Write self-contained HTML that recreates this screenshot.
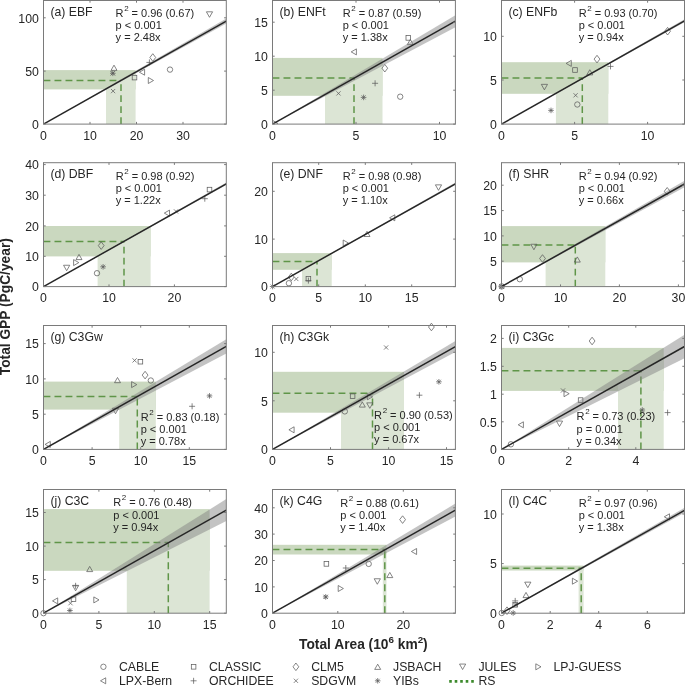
<!DOCTYPE html><html><head><meta charset="utf-8"><style>html,body{margin:0;padding:0;background:#fff;}svg{display:block;font-family:"Liberation Sans", sans-serif;will-change:transform;}</style></head><body>
<svg width="685" height="686" viewBox="0 0 685 686">
<rect width="685" height="686" fill="#fff"/>
<clipPath id="c0"><rect x="43.5" y="0.5" width="182.80" height="123.60"/></clipPath>
<g clip-path="url(#c0)">
<rect x="43.50" y="70.10" width="92.10" height="19.30" fill="#cad8bf"/>
<path d="M106.00 124.10V88.88L135.60 72.21V124.10Z" fill="#dce5d5"/>
<path d="M43.50 80.40H121.00" stroke="#5f9548" stroke-width="1.5" fill="none" stroke-dasharray="6.9 4.1"/>
<path d="M121.00 124.10V80.40" stroke="#5f9548" stroke-width="1.5" fill="none" stroke-dasharray="6.9 4.1"/>
</g>
<path d="M209.50 17.30L212.60 11.80L206.40 11.80Z" stroke="#5c5c5c" stroke-width="0.75" fill="none"/>
<path d="M114.00 65.15L117.00 70.35L111.00 70.35Z" stroke="#5c5c5c" stroke-width="0.75" fill="none"/>
<path d="M110.00 73.30H115.60M112.80 70.50V76.10M110.80 71.30L114.80 75.30M110.80 75.30L114.80 71.30" stroke="#5c5c5c" stroke-width="0.75" fill="none"/>
<path d="M110.70 71.20L114.90 75.40M110.70 75.40L114.90 71.20" stroke="#5c5c5c" stroke-width="0.75" fill="none"/>
<path d="M111.00 89.00L115.20 93.20M111.00 93.20L115.20 89.00" stroke="#5c5c5c" stroke-width="0.75" fill="none"/>
<rect x="132.20" y="75.30" width="4.6" height="4.6" stroke="#5c5c5c" stroke-width="0.75" fill="none"/>
<path d="M139.40 72.20L144.60 69.20L144.60 75.20Z" stroke="#5c5c5c" stroke-width="0.75" fill="none"/>
<path d="M153.50 80.50L148.30 77.50L148.30 83.50Z" stroke="#5c5c5c" stroke-width="0.75" fill="none"/>
<path d="M152.80 53.70L155.70 57.50L152.80 61.30L149.90 57.50Z" stroke="#5c5c5c" stroke-width="0.75" fill="none"/>
<path d="M146.40 62.40H152.40M149.40 59.40V65.40" stroke="#5c5c5c" stroke-width="0.75" fill="none"/>
<circle cx="170.00" cy="69.60" r="2.7" stroke="#5c5c5c" stroke-width="0.75" fill="none"/>
<g clip-path="url(#c0)">
<path d="M43.50 124.10L226.30 18.60L226.30 23.60Z" fill="#808080" fill-opacity="0.47"/>
<line x1="43.50" y1="124.10" x2="226.30" y2="21.10" stroke="#262626" stroke-width="1.5"/>
</g>
<rect x="43.5" y="0.5" width="182.80" height="123.60" fill="none" stroke="#7a7a7a" stroke-width="1"/>
<path d="M43.50 124.10v-2.2M43.50 0.50v2.2M90.00 124.10v-2.2M90.00 0.50v2.2M136.50 124.10v-2.2M136.50 0.50v2.2M183.00 124.10v-2.2M183.00 0.50v2.2M43.50 124.10h2.2M226.30 124.10h-2.2M43.50 71.10h2.2M226.30 71.10h-2.2M43.50 17.80h2.2M226.30 17.80h-2.2" stroke="#7a7a7a" stroke-width="1" fill="none"/>
<text x="43.50" y="139.60" font-size="12.3" text-anchor="middle" fill="#262626">0</text>
<text x="90.00" y="139.60" font-size="12.3" text-anchor="middle" fill="#262626">10</text>
<text x="136.50" y="139.60" font-size="12.3" text-anchor="middle" fill="#262626">20</text>
<text x="183.00" y="139.60" font-size="12.3" text-anchor="middle" fill="#262626">30</text>
<text x="38.90" y="128.95" font-size="12.3" text-anchor="end" fill="#262626">0</text>
<text x="38.90" y="75.95" font-size="12.3" text-anchor="end" fill="#262626">50</text>
<text x="38.90" y="22.65" font-size="12.3" text-anchor="end" fill="#262626">100</text>
<text x="50.40" y="16.00" font-size="12.25" fill="#262626">(a) EBF</text>
<g fill="#262626">
<text x="115.60" y="16.70" font-size="11.0">R<tspan dx="0.6" dy="-6.2" font-size="8">2</tspan><tspan dx="-0.1" dy="6.2"> = 0.96 (0.67)</tspan></text>
<text x="115.60" y="28.85" font-size="11.0">p < 0.001</text>
<text x="115.60" y="41.00" font-size="11.0">y = 2.48x</text>
</g>
<clipPath id="c1"><rect x="272.5" y="0.5" width="182.90" height="123.60"/></clipPath>
<g clip-path="url(#c1)">
<rect x="272.50" y="57.90" width="110.00" height="37.90" fill="#cad8bf"/>
<path d="M325.00 124.10V94.56L382.50 62.21V124.10Z" fill="#dce5d5"/>
<path d="M272.50 77.90H354.00" stroke="#5f9548" stroke-width="1.5" fill="none" stroke-dasharray="6.9 4.1"/>
<path d="M354.00 124.10V77.90" stroke="#5f9548" stroke-width="1.5" fill="none" stroke-dasharray="6.9 4.1"/>
</g>
<path d="M351.20 51.90L356.40 48.90L356.40 54.90Z" stroke="#5c5c5c" stroke-width="0.75" fill="none"/>
<rect x="406.00" y="35.60" width="4.6" height="4.6" stroke="#5c5c5c" stroke-width="0.75" fill="none"/>
<path d="M410.30 39.40L413.30 44.60L407.30 44.60Z" stroke="#5c5c5c" stroke-width="0.75" fill="none"/>
<path d="M384.80 64.40L387.70 68.20L384.80 72.00L381.90 68.20Z" stroke="#5c5c5c" stroke-width="0.75" fill="none"/>
<path d="M372.10 83.30H378.10M375.10 80.30V86.30" stroke="#5c5c5c" stroke-width="0.75" fill="none"/>
<path d="M336.40 91.30L340.60 95.50M336.40 95.50L340.60 91.30" stroke="#5c5c5c" stroke-width="0.75" fill="none"/>
<path d="M360.80 97.40H366.40M363.60 94.60V100.20M361.60 95.40L365.60 99.40M361.60 99.40L365.60 95.40" stroke="#5c5c5c" stroke-width="0.75" fill="none"/>
<circle cx="400.20" cy="96.70" r="2.7" stroke="#5c5c5c" stroke-width="0.75" fill="none"/>
<g clip-path="url(#c1)"><path d="M277.80 123.40L272.60 120.40L272.60 126.40Z" stroke="#5c5c5c" stroke-width="0.75" fill="none"/></g>
<g clip-path="url(#c1)">
<path d="M272.50 124.10L455.40 15.20L455.40 27.20Z" fill="#808080" fill-opacity="0.47"/>
<line x1="272.50" y1="124.10" x2="455.40" y2="21.20" stroke="#262626" stroke-width="1.5"/>
</g>
<rect x="272.5" y="0.5" width="182.90" height="123.60" fill="none" stroke="#7a7a7a" stroke-width="1"/>
<path d="M272.50 124.10v-2.2M272.50 0.50v2.2M356.00 124.10v-2.2M356.00 0.50v2.2M439.50 124.10v-2.2M439.50 0.50v2.2M272.50 124.10h2.2M455.40 124.10h-2.2M272.50 90.20h2.2M455.40 90.20h-2.2M272.50 56.20h2.2M455.40 56.20h-2.2M272.50 22.20h2.2M455.40 22.20h-2.2" stroke="#7a7a7a" stroke-width="1" fill="none"/>
<text x="272.50" y="139.60" font-size="12.3" text-anchor="middle" fill="#262626">0</text>
<text x="356.00" y="139.60" font-size="12.3" text-anchor="middle" fill="#262626">5</text>
<text x="439.50" y="139.60" font-size="12.3" text-anchor="middle" fill="#262626">10</text>
<text x="267.90" y="128.95" font-size="12.3" text-anchor="end" fill="#262626">0</text>
<text x="267.90" y="95.05" font-size="12.3" text-anchor="end" fill="#262626">5</text>
<text x="267.90" y="61.05" font-size="12.3" text-anchor="end" fill="#262626">10</text>
<text x="267.90" y="27.05" font-size="12.3" text-anchor="end" fill="#262626">15</text>
<text x="279.40" y="16.00" font-size="12.25" fill="#262626">(b) ENFt</text>
<g fill="#262626">
<text x="342.70" y="16.70" font-size="11.0">R<tspan dx="0.6" dy="-6.2" font-size="8">2</tspan><tspan dx="-0.1" dy="6.2"> = 0.87 (0.59)</tspan></text>
<text x="342.70" y="28.85" font-size="11.0">p < 0.001</text>
<text x="342.70" y="41.00" font-size="11.0">y = 1.38x</text>
</g>
<clipPath id="c2"><rect x="501.5" y="0.5" width="183.00" height="123.60"/></clipPath>
<g clip-path="url(#c2)">
<rect x="501.50" y="62.20" width="106.80" height="31.60" fill="#cad8bf"/>
<path d="M555.90 124.10V93.39L608.30 63.81V124.10Z" fill="#dce5d5"/>
<path d="M501.50 78.10H582.30" stroke="#5f9548" stroke-width="1.5" fill="none" stroke-dasharray="6.9 4.1"/>
<path d="M582.30 124.10V78.10" stroke="#5f9548" stroke-width="1.5" fill="none" stroke-dasharray="6.9 4.1"/>
</g>
<path d="M667.60 27.40L670.50 31.20L667.60 35.00L664.70 31.20Z" stroke="#5c5c5c" stroke-width="0.75" fill="none"/>
<path d="M597.00 55.30L599.90 59.10L597.00 62.90L594.10 59.10Z" stroke="#5c5c5c" stroke-width="0.75" fill="none"/>
<path d="M566.10 63.40L571.30 60.40L571.30 66.40Z" stroke="#5c5c5c" stroke-width="0.75" fill="none"/>
<rect x="572.70" y="67.70" width="4.6" height="4.6" stroke="#5c5c5c" stroke-width="0.75" fill="none"/>
<path d="M589.80 69.70L592.80 74.90L586.80 74.90Z" stroke="#5c5c5c" stroke-width="0.75" fill="none"/>
<path d="M607.50 66.40H613.50M610.50 63.40V69.40" stroke="#5c5c5c" stroke-width="0.75" fill="none"/>
<path d="M544.40 89.85L547.50 84.35L541.30 84.35Z" stroke="#5c5c5c" stroke-width="0.75" fill="none"/>
<path d="M573.50 93.20L577.70 97.40M573.50 97.40L577.70 93.20" stroke="#5c5c5c" stroke-width="0.75" fill="none"/>
<circle cx="577.30" cy="104.50" r="2.7" stroke="#5c5c5c" stroke-width="0.75" fill="none"/>
<path d="M548.20 110.40H553.80M551.00 107.60V113.20M549.00 108.40L553.00 112.40M549.00 112.40L553.00 108.40" stroke="#5c5c5c" stroke-width="0.75" fill="none"/>
<g clip-path="url(#c2)">
<path d="M501.50 124.10L684.50 19.30L684.50 22.30Z" fill="#808080" fill-opacity="0.47"/>
<line x1="501.50" y1="124.10" x2="684.50" y2="20.80" stroke="#262626" stroke-width="1.5"/>
</g>
<rect x="501.5" y="0.5" width="183.00" height="123.60" fill="none" stroke="#7a7a7a" stroke-width="1"/>
<path d="M501.50 124.10v-2.2M501.50 0.50v2.2M574.60 124.10v-2.2M574.60 0.50v2.2M647.60 124.10v-2.2M647.60 0.50v2.2M501.50 124.10h2.2M684.50 124.10h-2.2M501.50 80.00h2.2M684.50 80.00h-2.2M501.50 36.30h2.2M684.50 36.30h-2.2" stroke="#7a7a7a" stroke-width="1" fill="none"/>
<text x="501.50" y="139.60" font-size="12.3" text-anchor="middle" fill="#262626">0</text>
<text x="574.60" y="139.60" font-size="12.3" text-anchor="middle" fill="#262626">5</text>
<text x="647.60" y="139.60" font-size="12.3" text-anchor="middle" fill="#262626">10</text>
<text x="496.90" y="128.95" font-size="12.3" text-anchor="end" fill="#262626">0</text>
<text x="496.90" y="84.85" font-size="12.3" text-anchor="end" fill="#262626">5</text>
<text x="496.90" y="41.15" font-size="12.3" text-anchor="end" fill="#262626">10</text>
<text x="508.40" y="16.00" font-size="12.25" fill="#262626">(c) ENFb</text>
<g fill="#262626">
<text x="578.70" y="17.00" font-size="11.0">R<tspan dx="0.6" dy="-6.2" font-size="8">2</tspan><tspan dx="-0.1" dy="6.2"> = 0.93 (0.70)</tspan></text>
<text x="578.70" y="29.15" font-size="11.0">p < 0.001</text>
<text x="578.70" y="41.30" font-size="11.0">y = 0.94x</text>
</g>
<clipPath id="c3"><rect x="43.5" y="162.7" width="182.80" height="123.90"/></clipPath>
<g clip-path="url(#c3)">
<rect x="43.50" y="226.00" width="107.10" height="30.40" fill="#cad8bf"/>
<path d="M97.60 286.60V256.18L150.60 226.37V286.60Z" fill="#dce5d5"/>
<path d="M43.50 241.50H124.00" stroke="#5f9548" stroke-width="1.5" fill="none" stroke-dasharray="6.9 4.1"/>
<path d="M124.00 286.60V241.50" stroke="#5f9548" stroke-width="1.5" fill="none" stroke-dasharray="6.9 4.1"/>
</g>
<rect x="207.20" y="187.30" width="4.6" height="4.6" stroke="#5c5c5c" stroke-width="0.75" fill="none"/>
<path d="M201.80 198.70H207.80M204.80 195.70V201.70" stroke="#5c5c5c" stroke-width="0.75" fill="none"/>
<path d="M164.30 213.10L169.50 210.10L169.50 216.10Z" stroke="#5c5c5c" stroke-width="0.75" fill="none"/>
<path d="M173.90 209.30L178.10 213.50M173.90 213.50L178.10 209.30" stroke="#5c5c5c" stroke-width="0.75" fill="none"/>
<path d="M101.20 241.80L104.10 245.60L101.20 249.40L98.30 245.60Z" stroke="#5c5c5c" stroke-width="0.75" fill="none"/>
<path d="M79.00 254.40L82.00 259.60L76.00 259.60Z" stroke="#5c5c5c" stroke-width="0.75" fill="none"/>
<path d="M78.80 262.60L73.60 259.60L73.60 265.60Z" stroke="#5c5c5c" stroke-width="0.75" fill="none"/>
<path d="M66.65 270.75L69.75 265.25L63.55 265.25Z" stroke="#5c5c5c" stroke-width="0.75" fill="none"/>
<circle cx="97.00" cy="273.20" r="2.7" stroke="#5c5c5c" stroke-width="0.75" fill="none"/>
<path d="M100.30 266.80H105.90M103.10 264.00V269.60M101.10 264.80L105.10 268.80M101.10 268.80L105.10 264.80" stroke="#5c5c5c" stroke-width="0.75" fill="none"/>
<g clip-path="url(#c3)">
<path d="M43.50 286.60L226.30 182.60L226.30 185.00Z" fill="#808080" fill-opacity="0.47"/>
<line x1="43.50" y1="286.60" x2="226.30" y2="183.80" stroke="#262626" stroke-width="1.5"/>
</g>
<rect x="43.5" y="162.7" width="182.80" height="123.90" fill="none" stroke="#7a7a7a" stroke-width="1"/>
<path d="M43.50 286.60v-2.2M43.50 162.70v2.2M109.00 286.60v-2.2M109.00 162.70v2.2M174.40 286.60v-2.2M174.40 162.70v2.2M43.50 286.60h2.2M226.30 286.60h-2.2M43.50 256.30h2.2M226.30 256.30h-2.2M43.50 225.90h2.2M226.30 225.90h-2.2M43.50 195.20h2.2M226.30 195.20h-2.2M43.50 164.60h2.2M226.30 164.60h-2.2" stroke="#7a7a7a" stroke-width="1" fill="none"/>
<text x="43.50" y="302.10" font-size="12.3" text-anchor="middle" fill="#262626">0</text>
<text x="109.00" y="302.10" font-size="12.3" text-anchor="middle" fill="#262626">10</text>
<text x="174.40" y="302.10" font-size="12.3" text-anchor="middle" fill="#262626">20</text>
<text x="38.90" y="291.45" font-size="12.3" text-anchor="end" fill="#262626">0</text>
<text x="38.90" y="261.15" font-size="12.3" text-anchor="end" fill="#262626">10</text>
<text x="38.90" y="230.75" font-size="12.3" text-anchor="end" fill="#262626">20</text>
<text x="38.90" y="200.05" font-size="12.3" text-anchor="end" fill="#262626">30</text>
<text x="38.90" y="169.45" font-size="12.3" text-anchor="end" fill="#262626">40</text>
<text x="50.40" y="178.20" font-size="12.25" fill="#262626">(d) DBF</text>
<g fill="#262626">
<text x="115.70" y="179.70" font-size="11.0">R<tspan dx="0.6" dy="-6.2" font-size="8">2</tspan><tspan dx="-0.1" dy="6.2"> = 0.98 (0.92)</tspan></text>
<text x="115.70" y="191.85" font-size="11.0">p < 0.001</text>
<text x="115.70" y="204.00" font-size="11.0">y = 1.22x</text>
</g>
<clipPath id="c4"><rect x="272.5" y="162.7" width="182.90" height="123.90"/></clipPath>
<g clip-path="url(#c4)">
<rect x="272.50" y="253.10" width="59.20" height="16.70" fill="#cad8bf"/>
<path d="M302.00 286.60V270.02L331.70 253.33V286.60Z" fill="#dce5d5"/>
<path d="M272.50 261.50H317.00" stroke="#5f9548" stroke-width="1.5" fill="none" stroke-dasharray="6.9 4.1"/>
<path d="M317.00 286.60V261.50" stroke="#5f9548" stroke-width="1.5" fill="none" stroke-dasharray="6.9 4.1"/>
</g>
<path d="M438.50 190.35L441.60 184.85L435.40 184.85Z" stroke="#5c5c5c" stroke-width="0.75" fill="none"/>
<path d="M389.60 217.80L394.80 214.80L394.80 220.80Z" stroke="#5c5c5c" stroke-width="0.75" fill="none"/>
<path d="M367.00 231.30L370.00 236.50L364.00 236.50Z" stroke="#5c5c5c" stroke-width="0.75" fill="none"/>
<path d="M348.40 243.00L343.20 240.00L343.20 246.00Z" stroke="#5c5c5c" stroke-width="0.75" fill="none"/>
<path d="M291.30 273.20L294.20 277.00L291.30 280.80L288.40 277.00Z" stroke="#5c5c5c" stroke-width="0.75" fill="none"/>
<path d="M294.20 276.90L298.40 281.10M294.20 281.10L298.40 276.90" stroke="#5c5c5c" stroke-width="0.75" fill="none"/>
<circle cx="288.90" cy="283.20" r="2.7" stroke="#5c5c5c" stroke-width="0.75" fill="none"/>
<rect x="306.10" y="276.40" width="4.6" height="4.6" stroke="#5c5c5c" stroke-width="0.75" fill="none"/>
<path d="M305.40 280.60H311.40M308.40 277.60V283.60" stroke="#5c5c5c" stroke-width="0.75" fill="none"/>
<path d="M269.80 286.50H275.40M272.60 283.70V289.30M270.60 284.50L274.60 288.50M270.60 288.50L274.60 284.50" stroke="#5c5c5c" stroke-width="0.75" fill="none"/>
<g clip-path="url(#c4)">
<path d="M272.50 286.60L455.40 182.50L455.40 185.10Z" fill="#808080" fill-opacity="0.47"/>
<line x1="272.50" y1="286.60" x2="455.40" y2="183.80" stroke="#262626" stroke-width="1.5"/>
</g>
<rect x="272.5" y="162.7" width="182.90" height="123.90" fill="none" stroke="#7a7a7a" stroke-width="1"/>
<path d="M272.50 286.60v-2.2M272.50 162.70v2.2M318.70 286.60v-2.2M318.70 162.70v2.2M365.30 286.60v-2.2M365.30 162.70v2.2M411.70 286.60v-2.2M411.70 162.70v2.2M272.50 286.60h2.2M455.40 286.60h-2.2M272.50 239.10h2.2M455.40 239.10h-2.2M272.50 191.30h2.2M455.40 191.30h-2.2" stroke="#7a7a7a" stroke-width="1" fill="none"/>
<text x="272.50" y="302.10" font-size="12.3" text-anchor="middle" fill="#262626">0</text>
<text x="318.70" y="302.10" font-size="12.3" text-anchor="middle" fill="#262626">5</text>
<text x="365.30" y="302.10" font-size="12.3" text-anchor="middle" fill="#262626">10</text>
<text x="411.70" y="302.10" font-size="12.3" text-anchor="middle" fill="#262626">15</text>
<text x="267.90" y="291.45" font-size="12.3" text-anchor="end" fill="#262626">0</text>
<text x="267.90" y="243.95" font-size="12.3" text-anchor="end" fill="#262626">10</text>
<text x="267.90" y="196.15" font-size="12.3" text-anchor="end" fill="#262626">20</text>
<text x="279.40" y="178.20" font-size="12.25" fill="#262626">(e) DNF</text>
<g fill="#262626">
<text x="342.70" y="179.90" font-size="11.0">R<tspan dx="0.6" dy="-6.2" font-size="8">2</tspan><tspan dx="-0.1" dy="6.2"> = 0.98 (0.98)</tspan></text>
<text x="342.70" y="192.05" font-size="11.0">p < 0.001</text>
<text x="342.70" y="204.20" font-size="11.0">y = 1.10x</text>
</g>
<clipPath id="c5"><rect x="501.5" y="162.7" width="183.00" height="123.90"/></clipPath>
<g clip-path="url(#c5)">
<rect x="501.50" y="226.10" width="103.80" height="36.30" fill="#cad8bf"/>
<path d="M545.60 286.60V261.88L605.30 228.40V286.60Z" fill="#dce5d5"/>
<path d="M501.50 245.10H575.30" stroke="#5f9548" stroke-width="1.5" fill="none" stroke-dasharray="6.9 4.1"/>
<path d="M575.30 286.60V245.10" stroke="#5f9548" stroke-width="1.5" fill="none" stroke-dasharray="6.9 4.1"/>
</g>
<path d="M667.20 187.50L670.10 191.30L667.20 195.10L664.30 191.30Z" stroke="#5c5c5c" stroke-width="0.75" fill="none"/>
<path d="M533.90 249.75L537.00 244.25L530.80 244.25Z" stroke="#5c5c5c" stroke-width="0.75" fill="none"/>
<path d="M542.50 254.70L545.40 258.50L542.50 262.30L539.60 258.50Z" stroke="#5c5c5c" stroke-width="0.75" fill="none"/>
<path d="M577.30 256.90L580.30 262.10L574.30 262.10Z" stroke="#5c5c5c" stroke-width="0.75" fill="none"/>
<circle cx="519.80" cy="279.20" r="2.7" stroke="#5c5c5c" stroke-width="0.75" fill="none"/>
<path d="M498.90 286.40H504.50M501.70 283.60V289.20M499.70 284.40L503.70 288.40M499.70 288.40L503.70 284.40" stroke="#5c5c5c" stroke-width="0.75" fill="none"/>
<circle cx="501.70" cy="286.40" r="2.7" stroke="#5c5c5c" stroke-width="0.75" fill="none"/>
<path d="M499.60 284.30L503.80 288.50M499.60 288.50L503.80 284.30" stroke="#5c5c5c" stroke-width="0.75" fill="none"/>
<g clip-path="url(#c5)">
<path d="M501.50 286.60L684.50 180.80L684.50 187.20Z" fill="#808080" fill-opacity="0.47"/>
<line x1="501.50" y1="286.60" x2="684.50" y2="184.00" stroke="#262626" stroke-width="1.5"/>
</g>
<rect x="501.5" y="162.7" width="183.00" height="123.90" fill="none" stroke="#7a7a7a" stroke-width="1"/>
<path d="M501.50 286.60v-2.2M501.50 162.70v2.2M560.50 286.60v-2.2M560.50 162.70v2.2M619.40 286.60v-2.2M619.40 162.70v2.2M678.40 286.60v-2.2M678.40 162.70v2.2M501.50 286.60h2.2M684.50 286.60h-2.2M501.50 261.20h2.2M684.50 261.20h-2.2M501.50 235.90h2.2M684.50 235.90h-2.2M501.50 210.60h2.2M684.50 210.60h-2.2M501.50 185.20h2.2M684.50 185.20h-2.2" stroke="#7a7a7a" stroke-width="1" fill="none"/>
<text x="501.50" y="302.10" font-size="12.3" text-anchor="middle" fill="#262626">0</text>
<text x="560.50" y="302.10" font-size="12.3" text-anchor="middle" fill="#262626">10</text>
<text x="619.40" y="302.10" font-size="12.3" text-anchor="middle" fill="#262626">20</text>
<text x="678.40" y="302.10" font-size="12.3" text-anchor="middle" fill="#262626">30</text>
<text x="496.90" y="291.45" font-size="12.3" text-anchor="end" fill="#262626">0</text>
<text x="496.90" y="266.05" font-size="12.3" text-anchor="end" fill="#262626">5</text>
<text x="496.90" y="240.75" font-size="12.3" text-anchor="end" fill="#262626">10</text>
<text x="496.90" y="215.45" font-size="12.3" text-anchor="end" fill="#262626">15</text>
<text x="496.90" y="190.05" font-size="12.3" text-anchor="end" fill="#262626">20</text>
<text x="508.40" y="178.20" font-size="12.25" fill="#262626">(f) SHR</text>
<g fill="#262626">
<text x="578.70" y="179.90" font-size="11.0">R<tspan dx="0.6" dy="-6.2" font-size="8">2</tspan><tspan dx="-0.1" dy="6.2"> = 0.94 (0.92)</tspan></text>
<text x="578.70" y="192.05" font-size="11.0">p < 0.001</text>
<text x="578.70" y="204.20" font-size="11.0">y = 0.66x</text>
</g>
<clipPath id="c6"><rect x="43.5" y="325.5" width="182.80" height="123.90"/></clipPath>
<g clip-path="url(#c6)">
<rect x="43.50" y="381.60" width="112.30" height="28.00" fill="#cad8bf"/>
<path d="M119.20 449.40V406.75L155.80 386.12V449.40Z" fill="#dce5d5"/>
<path d="M43.50 396.50H137.30" stroke="#5f9548" stroke-width="1.5" fill="none" stroke-dasharray="6.9 4.1"/>
<path d="M137.30 449.40V396.50" stroke="#5f9548" stroke-width="1.5" fill="none" stroke-dasharray="6.9 4.1"/>
</g>
<path d="M132.50 358.30L136.70 362.50M132.50 362.50L136.70 358.30" stroke="#5c5c5c" stroke-width="0.75" fill="none"/>
<rect x="138.10" y="359.40" width="4.6" height="4.6" stroke="#5c5c5c" stroke-width="0.75" fill="none"/>
<path d="M145.10 371.30L148.00 375.10L145.10 378.90L142.20 375.10Z" stroke="#5c5c5c" stroke-width="0.75" fill="none"/>
<circle cx="150.80" cy="380.50" r="2.7" stroke="#5c5c5c" stroke-width="0.75" fill="none"/>
<path d="M117.50 377.50L120.50 382.70L114.50 382.70Z" stroke="#5c5c5c" stroke-width="0.75" fill="none"/>
<path d="M136.80 384.60L131.60 381.60L131.60 387.60Z" stroke="#5c5c5c" stroke-width="0.75" fill="none"/>
<path d="M206.70 395.90H212.30M209.50 393.10V398.70M207.50 393.90L211.50 397.90M207.50 397.90L211.50 393.90" stroke="#5c5c5c" stroke-width="0.75" fill="none"/>
<path d="M189.10 406.30H195.10M192.10 403.30V409.30" stroke="#5c5c5c" stroke-width="0.75" fill="none"/>
<path d="M115.50 413.75L118.60 408.25L112.40 408.25Z" stroke="#5c5c5c" stroke-width="0.75" fill="none"/>
<path d="M45.10 444.40L50.30 441.40L50.30 447.40Z" stroke="#5c5c5c" stroke-width="0.75" fill="none"/>
<g clip-path="url(#c6)">
<path d="M43.50 449.40L226.30 339.20L226.30 353.60Z" fill="#808080" fill-opacity="0.47"/>
<line x1="43.50" y1="449.40" x2="226.30" y2="346.40" stroke="#262626" stroke-width="1.5"/>
</g>
<rect x="43.5" y="325.5" width="182.80" height="123.90" fill="none" stroke="#7a7a7a" stroke-width="1"/>
<path d="M43.50 449.40v-2.2M43.50 325.50v2.2M92.10 449.40v-2.2M92.10 325.50v2.2M140.70 449.40v-2.2M140.70 325.50v2.2M189.30 449.40v-2.2M189.30 325.50v2.2M43.50 449.40h2.2M226.30 449.40h-2.2M43.50 414.20h2.2M226.30 414.20h-2.2M43.50 378.90h2.2M226.30 378.90h-2.2M43.50 343.60h2.2M226.30 343.60h-2.2" stroke="#7a7a7a" stroke-width="1" fill="none"/>
<text x="43.50" y="464.90" font-size="12.3" text-anchor="middle" fill="#262626">0</text>
<text x="92.10" y="464.90" font-size="12.3" text-anchor="middle" fill="#262626">5</text>
<text x="140.70" y="464.90" font-size="12.3" text-anchor="middle" fill="#262626">10</text>
<text x="189.30" y="464.90" font-size="12.3" text-anchor="middle" fill="#262626">15</text>
<text x="38.90" y="454.25" font-size="12.3" text-anchor="end" fill="#262626">0</text>
<text x="38.90" y="419.05" font-size="12.3" text-anchor="end" fill="#262626">5</text>
<text x="38.90" y="383.75" font-size="12.3" text-anchor="end" fill="#262626">10</text>
<text x="38.90" y="348.45" font-size="12.3" text-anchor="end" fill="#262626">15</text>
<text x="50.40" y="341.00" font-size="12.25" fill="#262626">(g) C3Gw</text>
<g fill="#262626">
<text x="140.70" y="420.70" font-size="11.0">R<tspan dx="0.6" dy="-6.2" font-size="8">2</tspan><tspan dx="-0.1" dy="6.2"> = 0.83 (0.18)</tspan></text>
<text x="140.70" y="432.85" font-size="11.0">p < 0.001</text>
<text x="140.70" y="445.00" font-size="11.0">y = 0.78x</text>
</g>
<clipPath id="c7"><rect x="272.5" y="325.5" width="182.90" height="123.90"/></clipPath>
<g clip-path="url(#c7)">
<rect x="272.50" y="371.80" width="131.50" height="40.90" fill="#cad8bf"/>
<path d="M341.00 449.40V410.90L404.00 375.49V449.40Z" fill="#dce5d5"/>
<path d="M272.50 393.30H372.50" stroke="#5f9548" stroke-width="1.5" fill="none" stroke-dasharray="6.9 4.1"/>
<path d="M372.50 449.40V393.30" stroke="#5f9548" stroke-width="1.5" fill="none" stroke-dasharray="6.9 4.1"/>
</g>
<path d="M431.40 323.20L434.30 327.00L431.40 330.80L428.50 327.00Z" stroke="#5c5c5c" stroke-width="0.75" fill="none"/>
<path d="M384.00 345.40L388.20 349.60M384.00 349.60L388.20 345.40" stroke="#5c5c5c" stroke-width="0.75" fill="none"/>
<path d="M436.10 381.80H441.70M438.90 379.00V384.60M436.90 379.80L440.90 383.80M436.90 383.80L440.90 379.80" stroke="#5c5c5c" stroke-width="0.75" fill="none"/>
<path d="M416.40 395.20H422.40M419.40 392.20V398.20" stroke="#5c5c5c" stroke-width="0.75" fill="none"/>
<rect x="350.30" y="393.90" width="4.6" height="4.6" stroke="#5c5c5c" stroke-width="0.75" fill="none"/>
<path d="M372.60 396.80L367.40 393.80L367.40 399.80Z" stroke="#5c5c5c" stroke-width="0.75" fill="none"/>
<path d="M362.30 401.90L365.30 407.10L359.30 407.10Z" stroke="#5c5c5c" stroke-width="0.75" fill="none"/>
<path d="M369.80 408.35L372.90 402.85L366.70 402.85Z" stroke="#5c5c5c" stroke-width="0.75" fill="none"/>
<circle cx="344.80" cy="411.40" r="2.7" stroke="#5c5c5c" stroke-width="0.75" fill="none"/>
<path d="M288.90 429.80L294.10 426.80L294.10 432.80Z" stroke="#5c5c5c" stroke-width="0.75" fill="none"/>
<g clip-path="url(#c7)">
<path d="M272.50 449.40L455.40 341.10L455.40 352.10Z" fill="#808080" fill-opacity="0.47"/>
<line x1="272.50" y1="449.40" x2="455.40" y2="346.60" stroke="#262626" stroke-width="1.5"/>
</g>
<rect x="272.5" y="325.5" width="182.90" height="123.90" fill="none" stroke="#7a7a7a" stroke-width="1"/>
<path d="M272.50 449.40v-2.2M272.50 325.50v2.2M330.50 449.40v-2.2M330.50 325.50v2.2M388.60 449.40v-2.2M388.60 325.50v2.2M446.50 449.40v-2.2M446.50 325.50v2.2M272.50 449.40h2.2M455.40 449.40h-2.2M272.50 400.80h2.2M455.40 400.80h-2.2M272.50 352.30h2.2M455.40 352.30h-2.2" stroke="#7a7a7a" stroke-width="1" fill="none"/>
<text x="272.50" y="464.90" font-size="12.3" text-anchor="middle" fill="#262626">0</text>
<text x="330.50" y="464.90" font-size="12.3" text-anchor="middle" fill="#262626">5</text>
<text x="388.60" y="464.90" font-size="12.3" text-anchor="middle" fill="#262626">10</text>
<text x="446.50" y="464.90" font-size="12.3" text-anchor="middle" fill="#262626">15</text>
<text x="267.90" y="454.25" font-size="12.3" text-anchor="end" fill="#262626">0</text>
<text x="267.90" y="405.65" font-size="12.3" text-anchor="end" fill="#262626">5</text>
<text x="267.90" y="357.15" font-size="12.3" text-anchor="end" fill="#262626">10</text>
<text x="279.40" y="341.00" font-size="12.25" fill="#262626">(h) C3Gk</text>
<g fill="#262626">
<text x="374.10" y="419.10" font-size="11.0">R<tspan dx="0.6" dy="-6.2" font-size="8">2</tspan><tspan dx="-0.1" dy="6.2"> = 0.90 (0.53)</tspan></text>
<text x="374.10" y="431.25" font-size="11.0">p < 0.001</text>
<text x="374.10" y="443.40" font-size="11.0">y = 0.67x</text>
</g>
<clipPath id="c8"><rect x="501.5" y="325.5" width="183.00" height="123.90"/></clipPath>
<g clip-path="url(#c8)">
<rect x="501.50" y="347.90" width="162.20" height="43.00" fill="#cad8bf"/>
<path d="M618.00 449.40V383.89L663.70 358.20V449.40Z" fill="#dce5d5"/>
<path d="M501.50 370.70H640.90" stroke="#5f9548" stroke-width="1.5" fill="none" stroke-dasharray="6.9 4.1"/>
<path d="M640.90 449.40V370.70" stroke="#5f9548" stroke-width="1.5" fill="none" stroke-dasharray="6.9 4.1"/>
</g>
<path d="M592.10 337.20L595.00 341.00L592.10 344.80L589.20 341.00Z" stroke="#5c5c5c" stroke-width="0.75" fill="none"/>
<path d="M560.90 388.40L565.10 392.60M560.90 392.60L565.10 388.40" stroke="#5c5c5c" stroke-width="0.75" fill="none"/>
<path d="M569.20 393.70L564.00 390.70L564.00 396.70Z" stroke="#5c5c5c" stroke-width="0.75" fill="none"/>
<rect x="578.30" y="397.80" width="4.6" height="4.6" stroke="#5c5c5c" stroke-width="0.75" fill="none"/>
<path d="M639.50 410.00H645.10M642.30 407.20V412.80M640.30 408.00L644.30 412.00M640.30 412.00L644.30 408.00" stroke="#5c5c5c" stroke-width="0.75" fill="none"/>
<path d="M664.60 412.60H670.60M667.60 409.60V415.60" stroke="#5c5c5c" stroke-width="0.75" fill="none"/>
<path d="M518.20 424.80L523.40 421.80L523.40 427.80Z" stroke="#5c5c5c" stroke-width="0.75" fill="none"/>
<path d="M559.50 426.55L562.60 421.05L556.40 421.05Z" stroke="#5c5c5c" stroke-width="0.75" fill="none"/>
<circle cx="510.90" cy="444.30" r="2.7" stroke="#5c5c5c" stroke-width="0.75" fill="none"/>
<g clip-path="url(#c8)">
<path d="M501.50 449.40L684.50 334.80L684.50 358.20Z" fill="#808080" fill-opacity="0.47"/>
<line x1="501.50" y1="449.40" x2="684.50" y2="346.50" stroke="#262626" stroke-width="1.5"/>
</g>
<rect x="501.5" y="325.5" width="183.00" height="123.90" fill="none" stroke="#7a7a7a" stroke-width="1"/>
<path d="M501.50 449.40v-2.2M501.50 325.50v2.2M568.70 449.40v-2.2M568.70 325.50v2.2M635.80 449.40v-2.2M635.80 325.50v2.2M501.50 449.40h2.2M684.50 449.40h-2.2M501.50 421.80h2.2M684.50 421.80h-2.2M501.50 394.20h2.2M684.50 394.20h-2.2M501.50 366.30h2.2M684.50 366.30h-2.2M501.50 338.40h2.2M684.50 338.40h-2.2" stroke="#7a7a7a" stroke-width="1" fill="none"/>
<text x="501.50" y="464.90" font-size="12.3" text-anchor="middle" fill="#262626">0</text>
<text x="568.70" y="464.90" font-size="12.3" text-anchor="middle" fill="#262626">2</text>
<text x="635.80" y="464.90" font-size="12.3" text-anchor="middle" fill="#262626">4</text>
<text x="496.90" y="454.25" font-size="12.3" text-anchor="end" fill="#262626">0</text>
<text x="496.90" y="426.65" font-size="12.3" text-anchor="end" fill="#262626">0.5</text>
<text x="496.90" y="399.05" font-size="12.3" text-anchor="end" fill="#262626">1</text>
<text x="496.90" y="371.15" font-size="12.3" text-anchor="end" fill="#262626">1.5</text>
<text x="496.90" y="343.25" font-size="12.3" text-anchor="end" fill="#262626">2</text>
<text x="508.40" y="341.00" font-size="12.25" fill="#262626">(i) C3Gc</text>
<g fill="#262626">
<text x="576.60" y="420.40" font-size="11.0">R<tspan dx="0.6" dy="-6.2" font-size="8">2</tspan><tspan dx="-0.1" dy="6.2"> = 0.73 (0.23)</tspan></text>
<text x="576.60" y="432.55" font-size="11.0">p = 0.001</text>
<text x="576.60" y="444.70" font-size="11.0">y = 0.34x</text>
</g>
<clipPath id="c9"><rect x="43.5" y="489.5" width="182.80" height="123.70"/></clipPath>
<g clip-path="url(#c9)">
<rect x="43.50" y="509.10" width="166.10" height="61.70" fill="#cad8bf"/>
<path d="M126.80 613.20V566.22L209.60 519.52V613.20Z" fill="#dce5d5"/>
<path d="M43.50 542.50H168.30" stroke="#5f9548" stroke-width="1.5" fill="none" stroke-dasharray="6.9 4.1"/>
<path d="M168.30 613.20V542.50" stroke="#5f9548" stroke-width="1.5" fill="none" stroke-dasharray="6.9 4.1"/>
</g>
<path d="M89.70 566.40L92.70 571.60L86.70 571.60Z" stroke="#5c5c5c" stroke-width="0.75" fill="none"/>
<path d="M72.60 585.80H78.60M75.60 582.80V588.80" stroke="#5c5c5c" stroke-width="0.75" fill="none"/>
<path d="M75.60 590.85L78.70 585.35L72.50 585.35Z" stroke="#5c5c5c" stroke-width="0.75" fill="none"/>
<path d="M52.50 600.90L57.70 597.90L57.70 603.90Z" stroke="#5c5c5c" stroke-width="0.75" fill="none"/>
<rect x="71.20" y="596.90" width="4.6" height="4.6" stroke="#5c5c5c" stroke-width="0.75" fill="none"/>
<path d="M68.40 601.10L72.60 605.30M68.40 605.30L72.60 601.10" stroke="#5c5c5c" stroke-width="0.75" fill="none"/>
<path d="M99.00 599.90L93.80 596.90L93.80 602.90Z" stroke="#5c5c5c" stroke-width="0.75" fill="none"/>
<path d="M67.10 610.50H72.70M69.90 607.70V613.30M67.90 608.50L71.90 612.50M67.90 612.50L71.90 608.50" stroke="#5c5c5c" stroke-width="0.75" fill="none"/>
<circle cx="43.50" cy="613.20" r="2.7" stroke="#5c5c5c" stroke-width="0.75" fill="none"/>
<g clip-path="url(#c9)">
<path d="M43.50 613.20L226.30 499.10L226.30 521.10Z" fill="#808080" fill-opacity="0.47"/>
<line x1="43.50" y1="613.20" x2="226.30" y2="510.10" stroke="#262626" stroke-width="1.5"/>
</g>
<rect x="43.5" y="489.5" width="182.80" height="123.70" fill="none" stroke="#7a7a7a" stroke-width="1"/>
<path d="M43.50 613.20v-2.2M43.50 489.50v2.2M98.90 613.20v-2.2M98.90 489.50v2.2M154.30 613.20v-2.2M154.30 489.50v2.2M209.70 613.20v-2.2M209.70 489.50v2.2M43.50 613.20h2.2M226.30 613.20h-2.2M43.50 579.60h2.2M226.30 579.60h-2.2M43.50 546.10h2.2M226.30 546.10h-2.2M43.50 512.50h2.2M226.30 512.50h-2.2" stroke="#7a7a7a" stroke-width="1" fill="none"/>
<text x="43.50" y="628.70" font-size="12.3" text-anchor="middle" fill="#262626">0</text>
<text x="98.90" y="628.70" font-size="12.3" text-anchor="middle" fill="#262626">5</text>
<text x="154.30" y="628.70" font-size="12.3" text-anchor="middle" fill="#262626">10</text>
<text x="209.70" y="628.70" font-size="12.3" text-anchor="middle" fill="#262626">15</text>
<text x="38.90" y="618.05" font-size="12.3" text-anchor="end" fill="#262626">0</text>
<text x="38.90" y="584.45" font-size="12.3" text-anchor="end" fill="#262626">5</text>
<text x="38.90" y="550.95" font-size="12.3" text-anchor="end" fill="#262626">10</text>
<text x="38.90" y="517.35" font-size="12.3" text-anchor="end" fill="#262626">15</text>
<text x="50.40" y="505.00" font-size="12.25" fill="#262626">(j) C3C</text>
<g fill="#262626">
<text x="113.30" y="506.40" font-size="11.0">R<tspan dx="0.6" dy="-6.2" font-size="8">2</tspan><tspan dx="-0.1" dy="6.2"> = 0.76 (0.48)</tspan></text>
<text x="113.30" y="518.55" font-size="11.0">p < 0.001</text>
<text x="113.30" y="530.70" font-size="11.0">y = 0.94x</text>
</g>
<clipPath id="c10"><rect x="272.5" y="489.5" width="182.90" height="123.70"/></clipPath>
<g clip-path="url(#c10)">
<rect x="272.50" y="544.80" width="114.00" height="9.70" fill="#cad8bf"/>
<path d="M382.80 613.20V551.02L386.50 548.94V613.20Z" fill="#dce5d5"/>
<path d="M272.50 549.50H384.80" stroke="#5f9548" stroke-width="1.5" fill="none" stroke-dasharray="6.9 4.1"/>
<path d="M384.80 613.20V549.50" stroke="#5f9548" stroke-width="1.5" fill="none" stroke-dasharray="6.9 4.1"/>
</g>
<path d="M402.60 515.80L405.50 519.60L402.60 523.40L399.70 519.60Z" stroke="#5c5c5c" stroke-width="0.75" fill="none"/>
<path d="M411.40 551.50L416.60 548.50L416.60 554.50Z" stroke="#5c5c5c" stroke-width="0.75" fill="none"/>
<rect x="324.10" y="561.60" width="4.6" height="4.6" stroke="#5c5c5c" stroke-width="0.75" fill="none"/>
<path d="M342.80 568.00H348.80M345.80 565.00V571.00" stroke="#5c5c5c" stroke-width="0.75" fill="none"/>
<circle cx="368.70" cy="563.90" r="2.7" stroke="#5c5c5c" stroke-width="0.75" fill="none"/>
<path d="M389.80 572.40L392.80 577.60L386.80 577.60Z" stroke="#5c5c5c" stroke-width="0.75" fill="none"/>
<path d="M377.30 584.25L380.40 578.75L374.20 578.75Z" stroke="#5c5c5c" stroke-width="0.75" fill="none"/>
<path d="M343.40 588.50L338.20 585.50L338.20 591.50Z" stroke="#5c5c5c" stroke-width="0.75" fill="none"/>
<path d="M322.90 596.90H328.50M325.70 594.10V599.70M323.70 594.90L327.70 598.90M323.70 598.90L327.70 594.90" stroke="#5c5c5c" stroke-width="0.75" fill="none"/>
<path d="M323.60 594.80L327.80 599.00M323.60 599.00L327.80 594.80" stroke="#5c5c5c" stroke-width="0.75" fill="none"/>
<g clip-path="url(#c10)">
<path d="M272.50 613.20L455.40 503.60L455.40 516.60Z" fill="#808080" fill-opacity="0.47"/>
<line x1="272.50" y1="613.20" x2="455.40" y2="510.10" stroke="#262626" stroke-width="1.5"/>
</g>
<rect x="272.5" y="489.5" width="182.90" height="123.70" fill="none" stroke="#7a7a7a" stroke-width="1"/>
<path d="M272.50 613.20v-2.2M272.50 489.50v2.2M337.80 613.20v-2.2M337.80 489.50v2.2M403.30 613.20v-2.2M403.30 489.50v2.2M272.50 613.20h2.2M455.40 613.20h-2.2M272.50 586.90h2.2M455.40 586.90h-2.2M272.50 560.50h2.2M455.40 560.50h-2.2M272.50 534.10h2.2M455.40 534.10h-2.2M272.50 507.80h2.2M455.40 507.80h-2.2" stroke="#7a7a7a" stroke-width="1" fill="none"/>
<text x="272.50" y="628.70" font-size="12.3" text-anchor="middle" fill="#262626">0</text>
<text x="337.80" y="628.70" font-size="12.3" text-anchor="middle" fill="#262626">10</text>
<text x="403.30" y="628.70" font-size="12.3" text-anchor="middle" fill="#262626">20</text>
<text x="267.90" y="618.05" font-size="12.3" text-anchor="end" fill="#262626">0</text>
<text x="267.90" y="591.75" font-size="12.3" text-anchor="end" fill="#262626">10</text>
<text x="267.90" y="565.35" font-size="12.3" text-anchor="end" fill="#262626">20</text>
<text x="267.90" y="538.95" font-size="12.3" text-anchor="end" fill="#262626">30</text>
<text x="267.90" y="512.65" font-size="12.3" text-anchor="end" fill="#262626">40</text>
<text x="279.40" y="505.00" font-size="12.25" fill="#262626">(k) C4G</text>
<g fill="#262626">
<text x="340.30" y="506.70" font-size="11.0">R<tspan dx="0.6" dy="-6.2" font-size="8">2</tspan><tspan dx="-0.1" dy="6.2"> = 0.88 (0.61)</tspan></text>
<text x="340.30" y="518.85" font-size="11.0">p < 0.001</text>
<text x="340.30" y="531.00" font-size="11.0">y = 1.40x</text>
</g>
<clipPath id="c11"><rect x="501.5" y="489.5" width="183.00" height="123.70"/></clipPath>
<g clip-path="url(#c11)">
<rect x="501.50" y="565.60" width="82.10" height="4.90" fill="#cad8bf"/>
<path d="M578.60 613.20V569.85L583.60 567.04V613.20Z" fill="#dce5d5"/>
<path d="M501.50 568.20H581.20" stroke="#5f9548" stroke-width="1.5" fill="none" stroke-dasharray="6.9 4.1"/>
<path d="M581.20 613.20V568.20" stroke="#5f9548" stroke-width="1.5" fill="none" stroke-dasharray="6.9 4.1"/>
</g>
<path d="M664.30 516.80L669.50 513.80L669.50 519.80Z" stroke="#5c5c5c" stroke-width="0.75" fill="none"/>
<path d="M577.60 581.20L572.40 578.20L572.40 584.20Z" stroke="#5c5c5c" stroke-width="0.75" fill="none"/>
<path d="M527.80 587.65L530.90 582.15L524.70 582.15Z" stroke="#5c5c5c" stroke-width="0.75" fill="none"/>
<path d="M526.00 592.40L529.00 597.60L523.00 597.60Z" stroke="#5c5c5c" stroke-width="0.75" fill="none"/>
<path d="M512.20 600.90H518.20M515.20 597.90V603.90" stroke="#5c5c5c" stroke-width="0.75" fill="none"/>
<rect x="512.90" y="602.50" width="4.6" height="4.6" stroke="#5c5c5c" stroke-width="0.75" fill="none"/>
<path d="M513.10 602.70L517.30 606.90M513.10 606.90L517.30 602.70" stroke="#5c5c5c" stroke-width="0.75" fill="none"/>
<path d="M507.00 606.90L509.90 610.70L507.00 614.50L504.10 610.70Z" stroke="#5c5c5c" stroke-width="0.75" fill="none"/>
<path d="M510.40 613.00H516.00M513.20 610.20V615.80M511.20 611.00L515.20 615.00M511.20 615.00L515.20 611.00" stroke="#5c5c5c" stroke-width="0.75" fill="none"/>
<circle cx="501.70" cy="613.00" r="2.7" stroke="#5c5c5c" stroke-width="0.75" fill="none"/>
<g clip-path="url(#c11)">
<path d="M501.50 613.20L684.50 507.80L684.50 512.80Z" fill="#808080" fill-opacity="0.47"/>
<line x1="501.50" y1="613.20" x2="684.50" y2="510.30" stroke="#262626" stroke-width="1.5"/>
</g>
<rect x="501.5" y="489.5" width="183.00" height="123.70" fill="none" stroke="#7a7a7a" stroke-width="1"/>
<path d="M501.50 613.20v-2.2M501.50 489.50v2.2M550.20 613.20v-2.2M550.20 489.50v2.2M598.70 613.20v-2.2M598.70 489.50v2.2M647.30 613.20v-2.2M647.30 489.50v2.2M501.50 613.20h2.2M684.50 613.20h-2.2M501.50 563.60h2.2M684.50 563.60h-2.2M501.50 514.00h2.2M684.50 514.00h-2.2" stroke="#7a7a7a" stroke-width="1" fill="none"/>
<text x="501.50" y="628.70" font-size="12.3" text-anchor="middle" fill="#262626">0</text>
<text x="550.20" y="628.70" font-size="12.3" text-anchor="middle" fill="#262626">2</text>
<text x="598.70" y="628.70" font-size="12.3" text-anchor="middle" fill="#262626">4</text>
<text x="647.30" y="628.70" font-size="12.3" text-anchor="middle" fill="#262626">6</text>
<text x="496.90" y="618.05" font-size="12.3" text-anchor="end" fill="#262626">0</text>
<text x="496.90" y="568.45" font-size="12.3" text-anchor="end" fill="#262626">5</text>
<text x="496.90" y="518.85" font-size="12.3" text-anchor="end" fill="#262626">10</text>
<text x="508.40" y="505.00" font-size="12.25" fill="#262626">(l) C4C</text>
<g fill="#262626">
<text x="578.70" y="506.70" font-size="11.0">R<tspan dx="0.6" dy="-6.2" font-size="8">2</tspan><tspan dx="-0.1" dy="6.2"> = 0.97 (0.96)</tspan></text>
<text x="578.70" y="518.85" font-size="11.0">p < 0.001</text>
<text x="578.70" y="531.00" font-size="11.0">y = 1.38x</text>
</g>
<text x="363.4" y="649.1" font-size="13.75" font-weight="bold" text-anchor="middle" fill="#262626">Total Area (10<tspan dy="-6" font-size="9.8">6</tspan><tspan dy="6"> km</tspan><tspan dy="-6" font-size="9.8">2</tspan><tspan dy="6">)</tspan></text>
<text transform="translate(10.3 306.7) rotate(-90)" font-size="13.75" font-weight="bold" text-anchor="middle" fill="#262626">Total GPP (PgC/year)</text>
<circle cx="103.40" cy="666.80" r="2.7" stroke="#555" stroke-width="0.7" fill="none"/>
<text x="119.00" y="670.80" font-size="12.25" fill="#262626">CABLE</text>
<rect x="191.30" y="664.50" width="4.6" height="4.6" stroke="#555" stroke-width="0.7" fill="none"/>
<text x="209.00" y="670.80" font-size="12.25" fill="#262626">CLASSIC</text>
<path d="M295.90 663.00L298.80 666.80L295.90 670.60L293.00 666.80Z" stroke="#555" stroke-width="0.7" fill="none"/>
<text x="311.20" y="670.80" font-size="12.25" fill="#262626">CLM5</text>
<path d="M377.70 664.20L380.70 669.40L374.70 669.40Z" stroke="#555" stroke-width="0.7" fill="none"/>
<text x="393.00" y="670.80" font-size="12.25" fill="#262626">JSBACH</text>
<path d="M462.60 669.55L465.70 664.05L459.50 664.05Z" stroke="#555" stroke-width="0.7" fill="none"/>
<text x="478.40" y="670.80" font-size="12.25" fill="#262626">JULES</text>
<path d="M541.00 666.80L535.80 663.80L535.80 669.80Z" stroke="#555" stroke-width="0.7" fill="none"/>
<text x="553.40" y="670.80" font-size="12.25" fill="#262626">LPJ-GUESS</text>
<path d="M100.50 680.80L105.70 677.80L105.70 683.80Z" stroke="#555" stroke-width="0.7" fill="none"/>
<text x="119.00" y="684.80" font-size="12.25" fill="#262626">LPX-Bern</text>
<path d="M190.60 680.80H196.60M193.60 677.80V683.80" stroke="#555" stroke-width="0.7" fill="none"/>
<text x="209.00" y="684.80" font-size="12.25" fill="#262626">ORCHIDEE</text>
<path d="M293.80 678.70L298.00 682.90M293.80 682.90L298.00 678.70" stroke="#555" stroke-width="0.7" fill="none"/>
<text x="311.20" y="684.80" font-size="12.25" fill="#262626">SDGVM</text>
<path d="M374.90 680.80H380.50M377.70 678.00V683.60M375.70 678.80L379.70 682.80M375.70 682.80L379.70 678.80" stroke="#555" stroke-width="0.7" fill="none"/>
<text x="393.00" y="684.80" font-size="12.25" fill="#262626">YIBs</text>
<path d="M449.2 681.4H474.3" stroke="#3d8a2c" stroke-width="2.6" stroke-dasharray="2.6 2.9"/>
<text x="478.4" y="684.8" font-size="12.25" fill="#262626">RS</text>
</svg></body></html>
